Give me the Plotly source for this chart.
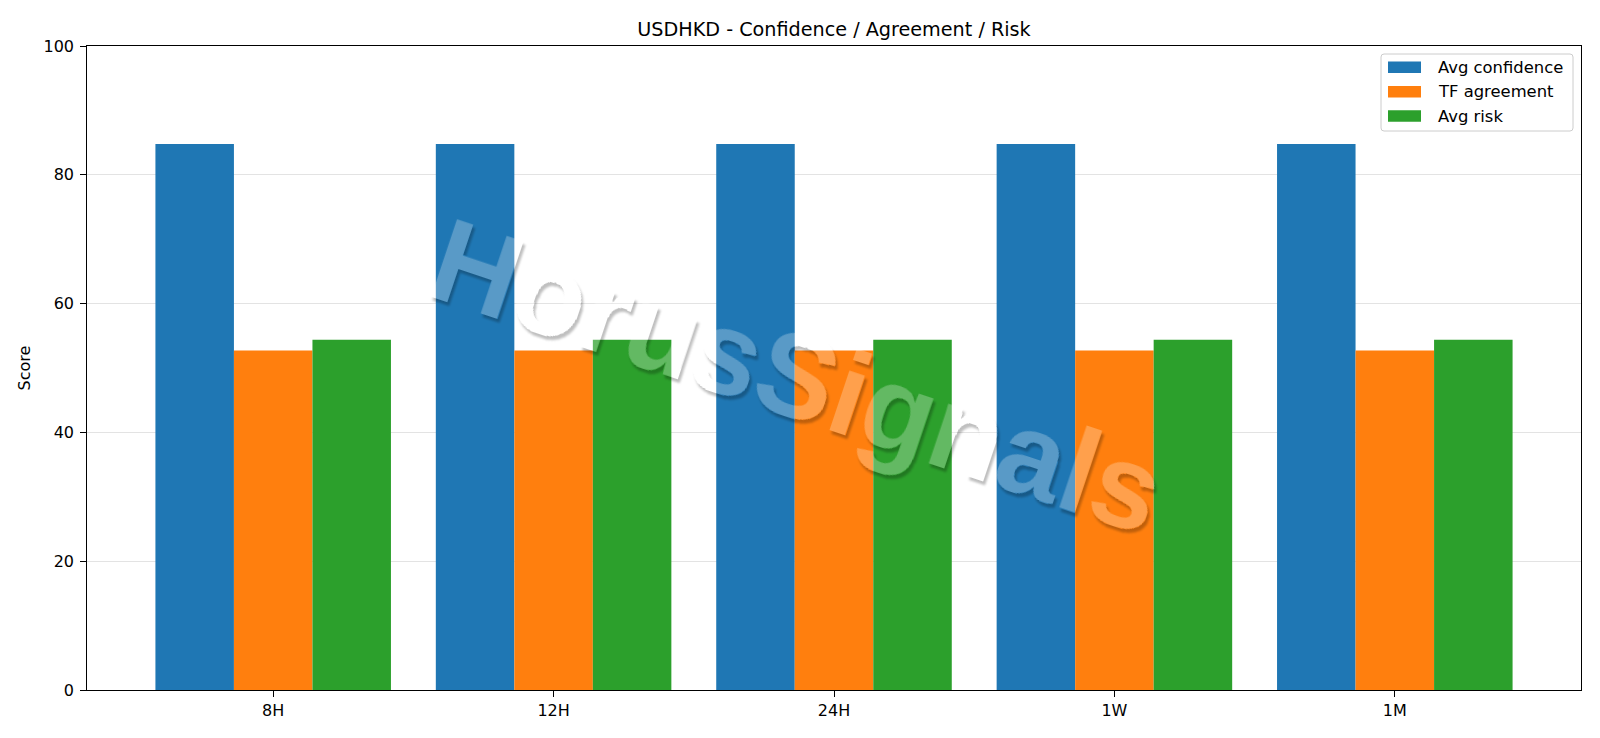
import plotly.graph_objects as go

# ---- data ----
categories = ["8H", "12H", "24H", "1W", "1M"]
avg_confidence = [84.8, 84.8, 84.8, 84.8, 84.8]
tf_agreement = [52.7, 52.7, 52.7, 52.7, 52.7]
avg_risk = [54.4, 54.4, 54.4, 54.4, 54.4]
series_names = ["Avg confidence", "TF agreement", "Avg risk"]
series_colors = ["#1f77b4", "#ff7f0e", "#2ca02c"]
y_ticks = [0, 20, 40, 60, 80, 100]
watermark = "HorusSignals"

W, H = 1600, 738
L, R, T, B = 87, 1581, 46, 690  # plot area in pixels
PW, PH = R - L, B - T


def px(x):
    return (x - L) / PW


def py(y):
    return (B - y) / PH


FONT = "DejaVu Sans"

fig = go.Figure()
for name, vals, col in zip(series_names, [avg_confidence, tf_agreement, avg_risk], series_colors):
    fig.add_trace(go.Bar(x=categories, y=vals, name=name, marker=dict(color=col, line=dict(width=0)),
                         showlegend=False))

shapes = []
annotations = []

# legend box (rounded)
x0, x1, y0, y1 = px(1381), px(1573), py(54), py(131)
rx, ry = 3 / PW, 3 / PH
path = (f"M {x0+rx},{y0} L {x1-rx},{y0} Q {x1},{y0} {x1},{y0-ry} L {x1},{y1+ry} Q {x1},{y1} {x1-rx},{y1} "
        f"L {x0+rx},{y1} Q {x0},{y1} {x0},{y1+ry} L {x0},{y0-ry} Q {x0},{y0} {x0+rx},{y0} Z")
shapes.append(dict(type="path", path=path, xref="paper", yref="paper",
                   fillcolor="rgba(255,255,255,0.8)", line=dict(color="#cccccc", width=1), layer="above"))
rows = [67.3, 91.7, 116.0]
for name, col, cy in zip(series_names, series_colors, rows):
    shapes.append(dict(type="rect", xref="paper", yref="paper",
                       x0=px(1388), x1=px(1421), y0=py(cy + 5.8), y1=py(cy - 5.8),
                       fillcolor=col, line=dict(width=0), layer="above"))
    annotations.append(dict(text=name, xref="paper", yref="paper", x=px(1436), y=py(cy),
                            xanchor="left", yanchor="middle", showarrow=False,
                            font=dict(family=FONT, size=16.4, color="black")))

# watermark (translucent white text; shadow added by an SVG filter below)
annotations.append(dict(text="<b>" + watermark + "</b>", xref="paper", yref="paper",
                        x=px(797), y=py(376), textangle=18.5, showarrow=False,
                        font=dict(family="Liberation Sans", size=118, color="rgba(255,255,255,0.26)")))

fig.update_layout(
    width=W, height=H,
    margin=dict(l=L, r=W - R, t=T, b=H - B, pad=0),
    paper_bgcolor="white", plot_bgcolor="white",
    barmode="group", bargap=0.16, bargroupgap=0,
    title=dict(text="USDHKD - Confidence / Agreement / Risk", x=(L + R) / 2 / W, xanchor="center",
               y=1 - 29 / H, yanchor="middle", font=dict(family=FONT, size=19.2, color="black")),
    font=dict(family=FONT, size=16, color="black"),
    shapes=shapes, annotations=annotations,
    showlegend=False,
)
fig.update_xaxes(
    type="category", range=[-0.664, 4.664],
    showline=True, linecolor="black", linewidth=1.3, mirror=True,
    ticks="outside", ticklen=5.6, tickwidth=1.2, tickcolor="black",
    showgrid=False, zeroline=False,
    tickfont=dict(family=FONT, size=16, color="black"),
)
fig.update_yaxes(
    range=[0, 100], tickvals=y_ticks, ticktext=[str(v) for v in y_ticks],
    showline=True, linecolor="black", linewidth=1.3, mirror=True,
    ticks="outside", ticklen=5.6, tickwidth=1.2, tickcolor="black",
    ticklabelstandoff=3,
    showgrid=True, gridcolor="rgba(176,176,176,0.35)", gridwidth=1, zeroline=False,
    layer="above traces",
    title=dict(text="Score", font=dict(family=FONT, size=16, color="black"), standoff=8),
    tickfont=dict(family=FONT, size=16, color="black"),
)

post_js = """
var gd = document.getElementById('{plot_id}');
function addWmShadow() {
  var NS = 'http://www.w3.org/2000/svg';
  if (!document.getElementById('wmshadow')) {
    var svg = gd.querySelector('svg.main-svg');
    var defs = document.createElementNS(NS, 'defs');
    defs.innerHTML =
      '<filter id="wmshadow" x="-10%" y="-30%" width="120%" height="160%" color-interpolation-filters="sRGB">' +
      '<feComponentTransfer in="SourceAlpha" result="solid"><feFuncA type="linear" slope="20"/></feComponentTransfer>' +
      '<feOffset in="solid" dx="3" dy="3" result="off"/>' +
      '<feGaussianBlur in="off" stdDeviation="1.0" result="blur"/>' +
      '<feComposite in="blur" in2="solid" operator="out" result="sh"/>' +
      '<feFlood flood-color="#000000" flood-opacity="0.25" result="col"/>' +
      '<feComposite in="col" in2="sh" operator="in" result="shadow"/>' +
      '<feMerge><feMergeNode in="shadow"/><feMergeNode in="SourceGraphic"/></feMerge>' +
      '</filter>';
    svg.appendChild(defs);
  }
  gd.querySelectorAll('text.annotation-text').forEach(function(t) {
    if (t.textContent === 'HorusSignals') { t.setAttribute('filter', 'url(#wmshadow)'); }
  });
}
addWmShadow();
gd.on('plotly_afterplot', addWmShadow);
"""

fig.write_html("out.html", post_script=post_js)
